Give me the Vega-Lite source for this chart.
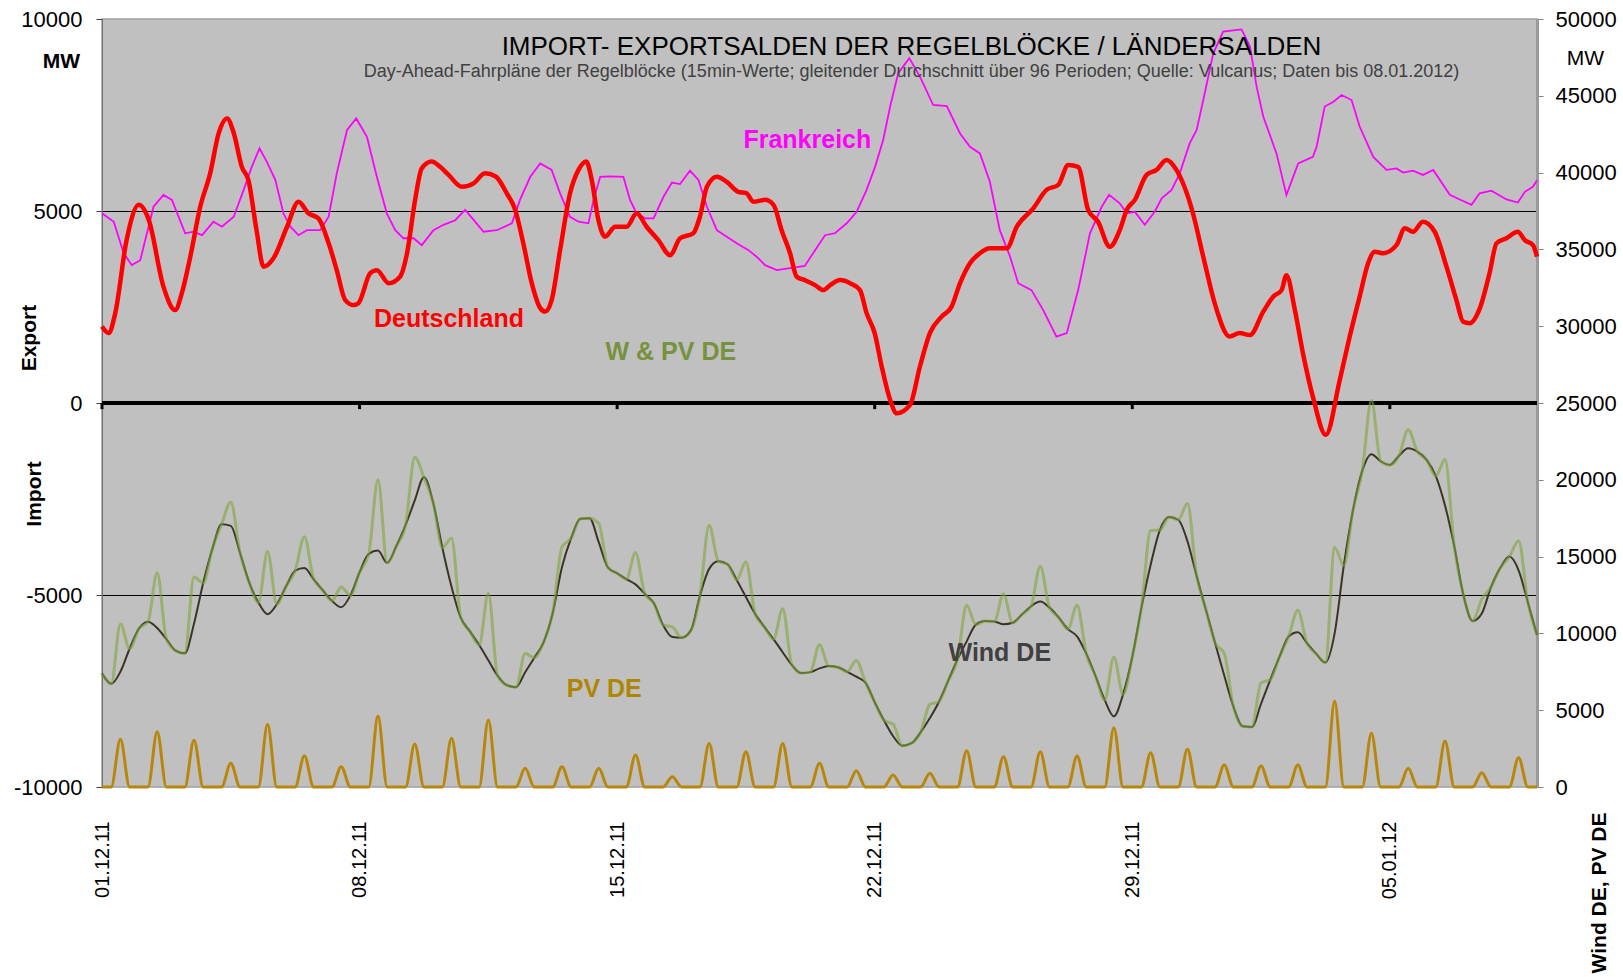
{
"$schema":"https://vega.github.io/schema/vega-lite/v6.json",
"width":1435,"height":768,
"autosize":{"type":"none"},
"padding":{"left":102,"top":19,"right":86,"bottom":190},
"background":"white",
"config":{"view":{"fill":"#c0c0c0","stroke":"#a0a0a0","strokeWidth":1.5},"font":"Liberation Sans, Arial, sans-serif","axis":{"labelFont":"Liberation Sans","titleFont":"Liberation Sans"}},
"title":{"text":"IMPORT- EXPORTSALDEN DER REGELBLÖCKE / LÄNDERSALDEN","subtitle":"Day-Ahead-Fahrpläne der Regelblöcke  (15min-Werte; gleitender Durchschnitt über 96 Perioden; Quelle:  Vulcanus; Daten bis 08.01.2012)","anchor":"middle","frame":"group","offset":-73,"dx":92,"fontSize":26,"fontWeight":"normal","color":"black","font":"Liberation Sans","subtitleFont":"Liberation Sans","subtitleFontSize":18,"subtitleColor":"#404040","subtitlePadding":3},
"datasets":{
"one":[{}],
"de":[{"Tag":0,"MW":1990},{"Tag":0.18,"MW":1820},{"Tag":0.36,"MW":2340},{"Tag":0.67,"MW":4250},{"Tag":1.0,"MW":5160},{"Tag":1.27,"MW":4770},{"Tag":1.67,"MW":3030},{"Tag":1.99,"MW":2420},{"Tag":2.17,"MW":2860},{"Tag":2.4,"MW":3810},{"Tag":2.67,"MW":5110},{"Tag":2.94,"MW":5980},{"Tag":3.17,"MW":7020},{"Tag":3.4,"MW":7410},{"Tag":3.58,"MW":7030},{"Tag":3.8,"MW":6150},{"Tag":3.98,"MW":5800},{"Tag":4.2,"MW":4500},{"Tag":4.39,"MW":3550},{"Tag":4.66,"MW":3770},{"Tag":5.03,"MW":4590},{"Tag":5.34,"MW":5240},{"Tag":5.61,"MW":4940},{"Tag":5.88,"MW":4810},{"Tag":6.16,"MW":4160},{"Tag":6.38,"MW":3460},{"Tag":6.61,"MW":2680},{"Tag":6.84,"MW":2550},{"Tag":6.97,"MW":2600},{"Tag":7.29,"MW":3380},{"Tag":7.47,"MW":3460},{"Tag":7.79,"MW":3120},{"Tag":8.1,"MW":3290},{"Tag":8.29,"MW":3900},{"Tag":8.51,"MW":5290},{"Tag":8.69,"MW":6110},{"Tag":8.96,"MW":6290},{"Tag":9.19,"MW":6150},{"Tag":9.42,"MW":5940},{"Tag":9.78,"MW":5630},{"Tag":10.1,"MW":5720},{"Tag":10.41,"MW":5980},{"Tag":10.7,"MW":5900},{"Tag":11.0,"MW":5460},{"Tag":11.23,"MW":5030},{"Tag":11.45,"MW":4160},{"Tag":11.68,"MW":3120},{"Tag":11.91,"MW":2470},{"Tag":12.04,"MW":2380},{"Tag":12.22,"MW":2680},{"Tag":12.45,"MW":3980},{"Tag":12.72,"MW":5460},{"Tag":12.95,"MW":6070},{"Tag":13.16,"MW":6290},{"Tag":13.31,"MW":5810},{"Tag":13.49,"MW":4770},{"Tag":13.67,"MW":4330},{"Tag":13.95,"MW":4590},{"Tag":14.26,"MW":4590},{"Tag":14.53,"MW":4940},{"Tag":14.8,"MW":4590},{"Tag":15.12,"MW":4240},{"Tag":15.44,"MW":3850},{"Tag":15.71,"MW":4290},{"Tag":16.07,"MW":4420},{"Tag":16.25,"MW":4850},{"Tag":16.44,"MW":5630},{"Tag":16.71,"MW":5890},{"Tag":16.98,"MW":5760},{"Tag":17.29,"MW":5500},{"Tag":17.52,"MW":5460},{"Tag":17.7,"MW":5240},{"Tag":18.02,"MW":5290},{"Tag":18.25,"MW":5160},{"Tag":18.47,"MW":4500},{"Tag":18.7,"MW":3900},{"Tag":18.88,"MW":3290},{"Tag":19.1,"MW":3200},{"Tag":19.38,"MW":3070},{"Tag":19.6,"MW":2940},{"Tag":19.79,"MW":3070},{"Tag":20.06,"MW":3200},{"Tag":20.33,"MW":3120},{"Tag":20.6,"MW":2940},{"Tag":20.78,"MW":2340},{"Tag":21.0,"MW":1820},{"Tag":21.19,"MW":950},{"Tag":21.42,"MW":80},{"Tag":21.6,"MW":-270},{"Tag":21.96,"MW":-50},{"Tag":22.23,"MW":950},{"Tag":22.5,"MW":1820},{"Tag":22.82,"MW":2250},{"Tag":23.09,"MW":2510},{"Tag":23.32,"MW":3120},{"Tag":23.59,"MW":3640},{"Tag":23.86,"MW":3900},{"Tag":24.13,"MW":4030},{"Tag":24.59,"MW":4030},{"Tag":24.86,"MW":4590},{"Tag":25.31,"MW":5070},{"Tag":25.67,"MW":5550},{"Tag":25.99,"MW":5680},{"Tag":26.26,"MW":6200},{"Tag":26.53,"MW":6150},{"Tag":26.8,"MW":5030},{"Tag":27.07,"MW":4720},{"Tag":27.39,"MW":4070},{"Tag":27.66,"MW":4500},{"Tag":27.85,"MW":5030},{"Tag":28.07,"MW":5290},{"Tag":28.39,"MW":5940},{"Tag":28.66,"MW":6070},{"Tag":28.93,"MW":6330},{"Tag":29.2,"MW":6070},{"Tag":29.65,"MW":4940},{"Tag":29.93,"MW":3810},{"Tag":30.24,"MW":2600},{"Tag":30.65,"MW":1730},{"Tag":30.92,"MW":1820},{"Tag":31.2,"MW":1770},{"Tag":31.56,"MW":2380},{"Tag":31.83,"MW":2770},{"Tag":32.06,"MW":2940},{"Tag":32.19,"MW":3330},{"Tag":32.42,"MW":2420},{"Tag":32.64,"MW":1290},{"Tag":32.91,"MW":160},{"Tag":33.26,"MW":-830},{"Tag":33.64,"MW":600},{"Tag":33.91,"MW":1730},{"Tag":34.18,"MW":2770},{"Tag":34.41,"MW":3640},{"Tag":34.59,"MW":3940},{"Tag":34.82,"MW":3900},{"Tag":35.18,"MW":4110},{"Tag":35.41,"MW":4550},{"Tag":35.63,"MW":4460},{"Tag":35.9,"MW":4720},{"Tag":36.22,"MW":4460},{"Tag":36.54,"MW":3550},{"Tag":36.81,"MW":2680},{"Tag":36.99,"MW":2120},{"Tag":37.17,"MW":2080},{"Tag":37.44,"MW":2450},{"Tag":37.71,"MW":3380},{"Tag":37.9,"MW":4160},{"Tag":38.17,"MW":4290},{"Tag":38.48,"MW":4460},{"Tag":38.67,"MW":4240},{"Tag":38.89,"MW":4110},{"Tag":39.0,"MW":3810}],
"fr":[{"Tag":0,"MW":4940},{"Tag":0.32,"MW":4720},{"Tag":0.59,"MW":3900},{"Tag":0.81,"MW":3590},{"Tag":1.04,"MW":3720},{"Tag":1.4,"MW":5110},{"Tag":1.67,"MW":5420},{"Tag":1.9,"MW":5290},{"Tag":2.26,"MW":4420},{"Tag":2.49,"MW":4460},{"Tag":2.72,"MW":4370},{"Tag":3.03,"MW":4720},{"Tag":3.26,"MW":4590},{"Tag":3.58,"MW":4850},{"Tag":3.85,"MW":5550},{"Tag":4.07,"MW":6150},{"Tag":4.28,"MW":6630},{"Tag":4.48,"MW":6280},{"Tag":4.71,"MW":5810},{"Tag":4.93,"MW":4940},{"Tag":5.12,"MW":4590},{"Tag":5.34,"MW":4370},{"Tag":5.57,"MW":4500},{"Tag":5.93,"MW":4500},{"Tag":6.16,"MW":4850},{"Tag":6.38,"MW":5980},{"Tag":6.66,"MW":7110},{"Tag":6.91,"MW":7410},{"Tag":7.2,"MW":6930},{"Tag":7.47,"MW":5890},{"Tag":7.74,"MW":4940},{"Tag":7.97,"MW":4500},{"Tag":8.19,"MW":4290},{"Tag":8.47,"MW":4290},{"Tag":8.69,"MW":4110},{"Tag":9.01,"MW":4500},{"Tag":9.28,"MW":4640},{"Tag":9.6,"MW":4760},{"Tag":9.87,"MW":5030},{"Tag":10.1,"MW":4770},{"Tag":10.37,"MW":4460},{"Tag":10.73,"MW":4500},{"Tag":11.14,"MW":4680},{"Tag":11.36,"MW":5290},{"Tag":11.64,"MW":5890},{"Tag":11.91,"MW":6240},{"Tag":12.22,"MW":6070},{"Tag":12.45,"MW":5460},{"Tag":12.72,"MW":4850},{"Tag":12.95,"MW":4720},{"Tag":13.22,"MW":4680},{"Tag":13.36,"MW":5290},{"Tag":13.54,"MW":5890},{"Tag":13.81,"MW":5900},{"Tag":14.17,"MW":5890},{"Tag":14.35,"MW":5290},{"Tag":14.53,"MW":4940},{"Tag":14.76,"MW":4810},{"Tag":14.99,"MW":4810},{"Tag":15.26,"MW":5370},{"Tag":15.49,"MW":5740},{"Tag":15.71,"MW":5700},{"Tag":15.98,"MW":6050},{"Tag":16.21,"MW":5810},{"Tag":16.44,"MW":5110},{"Tag":16.71,"MW":4500},{"Tag":16.98,"MW":4330},{"Tag":17.25,"MW":4160},{"Tag":17.57,"MW":3980},{"Tag":17.79,"MW":3810},{"Tag":18.02,"MW":3590},{"Tag":18.34,"MW":3460},{"Tag":18.7,"MW":3510},{"Tag":19.1,"MW":3570},{"Tag":19.38,"MW":3980},{"Tag":19.65,"MW":4370},{"Tag":19.92,"MW":4420},{"Tag":20.24,"MW":4680},{"Tag":20.51,"MW":4980},{"Tag":20.78,"MW":5550},{"Tag":21.01,"MW":6150},{"Tag":21.23,"MW":6850},{"Tag":21.42,"MW":7720},{"Tag":21.64,"MW":8590},{"Tag":21.94,"MW":8980},{"Tag":22.23,"MW":8500},{"Tag":22.59,"MW":7760},{"Tag":22.96,"MW":7730},{"Tag":23.32,"MW":7020},{"Tag":23.59,"MW":6670},{"Tag":23.86,"MW":6500},{"Tag":24.13,"MW":5760},{"Tag":24.4,"MW":4500},{"Tag":24.68,"MW":3810},{"Tag":24.9,"MW":3120},{"Tag":25.26,"MW":2940},{"Tag":25.58,"MW":2420},{"Tag":25.94,"MW":1730},{"Tag":26.22,"MW":1820},{"Tag":26.53,"MW":2940},{"Tag":26.85,"MW":4420},{"Tag":27.17,"MW":5110},{"Tag":27.37,"MW":5420},{"Tag":27.66,"MW":5200},{"Tag":27.85,"MW":4940},{"Tag":28.07,"MW":4980},{"Tag":28.34,"MW":4640},{"Tag":28.61,"MW":4980},{"Tag":28.8,"MW":5330},{"Tag":29.07,"MW":5550},{"Tag":29.29,"MW":5980},{"Tag":29.56,"MW":6760},{"Tag":29.75,"MW":7110},{"Tag":29.93,"MW":7890},{"Tag":30.2,"MW":9100},{"Tag":30.47,"MW":9670},{"Tag":30.97,"MW":9730},{"Tag":31.2,"MW":9280},{"Tag":31.38,"MW":8240},{"Tag":31.56,"MW":7460},{"Tag":31.92,"MW":6500},{"Tag":32.19,"MW":5420},{"Tag":32.51,"MW":6240},{"Tag":32.91,"MW":6410},{"Tag":33.01,"MW":6670},{"Tag":33.23,"MW":7720},{"Tag":33.46,"MW":7840},{"Tag":33.69,"MW":8020},{"Tag":33.96,"MW":7890},{"Tag":34.18,"MW":7200},{"Tag":34.55,"MW":6410},{"Tag":34.91,"MW":6070},{"Tag":35.18,"MW":6110},{"Tag":35.36,"MW":6000},{"Tag":35.63,"MW":6050},{"Tag":35.9,"MW":5940},{"Tag":36.18,"MW":6070},{"Tag":36.63,"MW":5420},{"Tag":36.9,"MW":5300},{"Tag":37.22,"MW":5160},{"Tag":37.44,"MW":5460},{"Tag":37.76,"MW":5530},{"Tag":38.17,"MW":5300},{"Tag":38.48,"MW":5220},{"Tag":38.67,"MW":5500},{"Tag":38.89,"MW":5630},{"Tag":39.0,"MW":5800}],
"ticks":[{"Tag":0},{"Tag":7},{"Tag":14},{"Tag":21},{"Tag":28},{"Tag":35}],
"grid":[
{"Tag":0,"Wind":7400,"PV":0,"WPV":7400},{"Tag":0.25,"Wind":6720,"PV":0,"WPV":6720},{"Tag":0.5,"Wind":7500,"PV":3105,"WPV":10605},{"Tag":0.75,"Wind":9000,"PV":0,"WPV":9000},
{"Tag":1,"Wind":10300,"PV":0,"WPV":10300},{"Tag":1.25,"Wind":10760,"PV":0,"WPV":10760},{"Tag":1.5,"Wind":10350,"PV":3600,"WPV":13950},{"Tag":1.75,"Wind":9620,"PV":0,"WPV":9620},
{"Tag":2,"Wind":8880,"PV":0,"WPV":8880},{"Tag":2.25,"Wind":8700,"PV":0,"WPV":8700},{"Tag":2.5,"Wind":10630,"PV":3040,"WPV":13670},{"Tag":2.75,"Wind":13280,"PV":0,"WPV":13280},
{"Tag":3,"Wind":15510,"PV":0,"WPV":15510},{"Tag":3.25,"Wind":17100,"PV":0,"WPV":17100},{"Tag":3.5,"Wind":17000,"PV":1540,"WPV":18540},{"Tag":3.75,"Wind":15250,"PV":0,"WPV":15250},
{"Tag":4,"Wind":13320,"PV":0,"WPV":13320},{"Tag":4.25,"Wind":12010,"PV":0,"WPV":12010},{"Tag":4.5,"Wind":11250,"PV":4080,"WPV":15330},{"Tag":4.75,"Wind":11900,"PV":0,"WPV":11900},
{"Tag":5,"Wind":13050,"PV":0,"WPV":13050},{"Tag":5.25,"Wind":14080,"PV":0,"WPV":14080},{"Tag":5.5,"Wind":14250,"PV":2040,"WPV":16290},{"Tag":5.75,"Wind":13540,"PV":0,"WPV":13540},
{"Tag":6,"Wind":12810,"PV":0,"WPV":12810},{"Tag":6.25,"Wind":12120,"PV":0,"WPV":12120},{"Tag":6.5,"Wind":11700,"PV":1320,"WPV":13020},{"Tag":6.75,"Wind":12470,"PV":0,"WPV":12470},
{"Tag":7,"Wind":13980,"PV":0,"WPV":13980},{"Tag":7.25,"Wind":15180,"PV":0,"WPV":15180},{"Tag":7.5,"Wind":15390,"PV":4620,"WPV":20010},{"Tag":7.75,"Wind":14600,"PV":0,"WPV":14600},
{"Tag":8,"Wind":15690,"PV":0,"WPV":15690},{"Tag":8.25,"Wind":17050,"PV":0,"WPV":17050},{"Tag":8.5,"Wind":18660,"PV":2800,"WPV":21460},{"Tag":8.75,"Wind":20160,"PV":0,"WPV":20160},
{"Tag":9,"Wind":18520,"PV":0,"WPV":18520},{"Tag":9.25,"Wind":15580,"PV":0,"WPV":15580},{"Tag":9.5,"Wind":13030,"PV":3170,"WPV":16200},{"Tag":9.75,"Wind":11020,"PV":0,"WPV":11020},
{"Tag":10,"Wind":10130,"PV":0,"WPV":10130},{"Tag":10.25,"Wind":9240,"PV":0,"WPV":9240},{"Tag":10.5,"Wind":8250,"PV":4360,"WPV":12610},{"Tag":10.75,"Wind":7250,"PV":0,"WPV":7250},
{"Tag":11,"Wind":6630,"PV":0,"WPV":6630},{"Tag":11.25,"Wind":6500,"PV":0,"WPV":6500},{"Tag":11.5,"Wind":7470,"PV":1215,"WPV":8685},{"Tag":11.75,"Wind":8420,"PV":0,"WPV":8420},
{"Tag":12,"Wind":9420,"PV":0,"WPV":9420},{"Tag":12.25,"Wind":11330,"PV":0,"WPV":11330},{"Tag":12.5,"Wind":14300,"PV":1320,"WPV":15620},{"Tag":12.75,"Wind":16200,"PV":0,"WPV":16200},
{"Tag":13,"Wind":17460,"PV":0,"WPV":17460},{"Tag":13.25,"Wind":17500,"PV":0,"WPV":17500},{"Tag":13.5,"Wind":15940,"PV":1215,"WPV":17155},{"Tag":13.75,"Wind":14290,"PV":0,"WPV":14290},
{"Tag":14,"Wind":13910,"PV":0,"WPV":13910},{"Tag":14.25,"Wind":13540,"PV":0,"WPV":13540},{"Tag":14.5,"Wind":13190,"PV":2080,"WPV":15270},{"Tag":14.75,"Wind":12580,"PV":0,"WPV":12580},
{"Tag":15,"Wind":11960,"PV":0,"WPV":11960},{"Tag":15.25,"Wind":10540,"PV":0,"WPV":10540},{"Tag":15.5,"Wind":9760,"PV":670,"WPV":10430},{"Tag":15.75,"Wind":9720,"PV":0,"WPV":9720},
{"Tag":16,"Wind":10180,"PV":0,"WPV":10180},{"Tag":16.25,"Wind":12450,"PV":0,"WPV":12450},{"Tag":16.5,"Wind":14200,"PV":2840,"WPV":17040},{"Tag":16.75,"Wind":14700,"PV":0,"WPV":14700},
{"Tag":17,"Wind":14500,"PV":0,"WPV":14500},{"Tag":17.25,"Wind":13480,"PV":0,"WPV":13480},{"Tag":17.5,"Wind":12370,"PV":2300,"WPV":14670},{"Tag":17.75,"Wind":11270,"PV":0,"WPV":11270},
{"Tag":18,"Wind":10430,"PV":0,"WPV":10430},{"Tag":18.25,"Wind":9630,"PV":0,"WPV":9630},{"Tag":18.5,"Wind":8770,"PV":2840,"WPV":11610},{"Tag":18.75,"Wind":7940,"PV":0,"WPV":7940},
{"Tag":19,"Wind":7420,"PV":0,"WPV":7420},{"Tag":19.25,"Wind":7480,"PV":0,"WPV":7480},{"Tag":19.5,"Wind":7720,"PV":1540,"WPV":9260},{"Tag":19.75,"Wind":7870,"PV":0,"WPV":7870},
{"Tag":20,"Wind":7800,"PV":0,"WPV":7800},{"Tag":20.25,"Wind":7500,"PV":0,"WPV":7500},{"Tag":20.5,"Wind":7180,"PV":1060,"WPV":8240},{"Tag":20.75,"Wind":6800,"PV":0,"WPV":6800},
{"Tag":21,"Wind":5520,"PV":0,"WPV":5520},{"Tag":21.25,"Wind":4350,"PV":0,"WPV":4350},{"Tag":21.5,"Wind":3310,"PV":780,"WPV":4090},{"Tag":21.75,"Wind":2690,"PV":0,"WPV":2690},
{"Tag":22,"Wind":2850,"PV":0,"WPV":2850},{"Tag":22.25,"Wind":3570,"PV":0,"WPV":3570},{"Tag":22.5,"Wind":4490,"PV":890,"WPV":5380},{"Tag":22.75,"Wind":5570,"PV":0,"WPV":5570},
{"Tag":23,"Wind":6930,"PV":0,"WPV":6930},{"Tag":23.25,"Wind":8310,"PV":0,"WPV":8310},{"Tag":23.5,"Wind":9480,"PV":2360,"WPV":11840},{"Tag":23.75,"Wind":10570,"PV":0,"WPV":10570},
{"Tag":24,"Wind":10800,"PV":0,"WPV":10800},{"Tag":24.25,"Wind":10780,"PV":0,"WPV":10780},{"Tag":24.5,"Wind":10590,"PV":1970,"WPV":12560},{"Tag":24.75,"Wind":10690,"PV":0,"WPV":10690},
{"Tag":25,"Wind":11230,"PV":0,"WPV":11230},{"Tag":25.25,"Wind":11770,"PV":0,"WPV":11770},{"Tag":25.5,"Wind":12070,"PV":2300,"WPV":14370},{"Tag":25.75,"Wind":11680,"PV":0,"WPV":11680},
{"Tag":26,"Wind":11040,"PV":0,"WPV":11040},{"Tag":26.25,"Wind":10280,"PV":0,"WPV":10280},{"Tag":26.5,"Wind":9810,"PV":2020,"WPV":11830},{"Tag":26.75,"Wind":8680,"PV":0,"WPV":8680},
{"Tag":27,"Wind":7240,"PV":0,"WPV":7240},{"Tag":27.25,"Wind":5670,"PV":0,"WPV":5670},{"Tag":27.5,"Wind":4600,"PV":3860,"WPV":8460},{"Tag":27.75,"Wind":6030,"PV":0,"WPV":6030},
{"Tag":28,"Wind":8460,"PV":0,"WPV":8460},{"Tag":28.25,"Wind":11680,"PV":0,"WPV":11680},{"Tag":28.5,"Wind":14470,"PV":2235,"WPV":16705},{"Tag":28.75,"Wind":16730,"PV":0,"WPV":16730},
{"Tag":29,"Wind":17580,"PV":0,"WPV":17580},{"Tag":29.25,"Wind":17400,"PV":0,"WPV":17400},{"Tag":29.5,"Wind":16000,"PV":2450,"WPV":18450},{"Tag":29.75,"Wind":13730,"PV":0,"WPV":13730},
{"Tag":30,"Wind":11560,"PV":0,"WPV":11560},{"Tag":30.25,"Wind":9390,"PV":0,"WPV":9390},{"Tag":30.5,"Wind":7260,"PV":1430,"WPV":8690},{"Tag":30.75,"Wind":5230,"PV":0,"WPV":5230},
{"Tag":31,"Wind":3950,"PV":0,"WPV":3950},{"Tag":31.25,"Wind":3900,"PV":0,"WPV":3900},{"Tag":31.5,"Wind":5420,"PV":1370,"WPV":6790},{"Tag":31.75,"Wind":6980,"PV":0,"WPV":6980},
{"Tag":32,"Wind":8470,"PV":0,"WPV":8470},{"Tag":32.25,"Wind":9800,"PV":0,"WPV":9800},{"Tag":32.5,"Wind":10070,"PV":1430,"WPV":11500},{"Tag":32.75,"Wind":9360,"PV":0,"WPV":9360},
{"Tag":33,"Wind":8670,"PV":0,"WPV":8670},{"Tag":33.25,"Wind":8100,"PV":0,"WPV":8100},{"Tag":33.5,"Wind":10000,"PV":5600,"WPV":15600},{"Tag":33.75,"Wind":14420,"PV":0,"WPV":14420},
{"Tag":34,"Wind":18030,"PV":0,"WPV":18030},{"Tag":34.25,"Wind":20580,"PV":0,"WPV":20580},{"Tag":34.5,"Wind":21670,"PV":3500,"WPV":25170},{"Tag":34.75,"Wind":21210,"PV":0,"WPV":21210},
{"Tag":35,"Wind":20970,"PV":0,"WPV":20970},{"Tag":35.25,"Wind":21570,"PV":0,"WPV":21570},{"Tag":35.5,"Wind":22050,"PV":1215,"WPV":23265},{"Tag":35.75,"Wind":21830,"PV":0,"WPV":21830},
{"Tag":36,"Wind":21300,"PV":0,"WPV":21300},{"Tag":36.25,"Wind":20240,"PV":0,"WPV":20240},{"Tag":36.5,"Wind":18330,"PV":2990,"WPV":21320},{"Tag":36.75,"Wind":15700,"PV":0,"WPV":15700},
{"Tag":37,"Wind":12500,"PV":0,"WPV":12500},{"Tag":37.25,"Wind":10810,"PV":0,"WPV":10810},{"Tag":37.5,"Wind":11300,"PV":930,"WPV":12230},{"Tag":37.75,"Wind":13020,"PV":0,"WPV":13020},
{"Tag":38,"Wind":14260,"PV":0,"WPV":14260},{"Tag":38.25,"Wind":15000,"PV":0,"WPV":15000},{"Tag":38.5,"Wind":14110,"PV":1910,"WPV":16020},{"Tag":38.75,"Wind":12050,"PV":0,"WPV":12050},
{"Tag":39,"Wind":9900,"PV":0,"WPV":9900}]
},
"layer":[
{"layer":[
 {"data":{"name":"one"},"mark":{"type":"rule","color":"black","strokeWidth":4},
  "encoding":{"y":{"datum":25000,"type":"quantitative","scale":{"domain":[0,50000],"nice":false,"zero":false},
   "axis":{"orient":"right","values":[0,5000,10000,15000,20000,25000,30000,35000,40000,45000,50000],"labelExpr":"'' + datum.value","title":"MW","titleAngle":0,"titleX":48,"titleY":39,"titleAlign":"center","titleBaseline":"middle","titleFontWeight":"normal","titleFontSize":21,"titleColor":"black","labelFontSize":22,"labelColor":"black","tickColor":"#808080","tickSize":6,"labelPadding":12,"domainColor":"#9a9a9a","domainWidth":3,"grid":false}}}},
 {"data":{"name":"ticks"},"mark":{"type":"rule","color":"black","strokeWidth":3},
  "encoding":{"x":{"field":"Tag","type":"quantitative","scale":{"domain":[0,39],"nice":false,"zero":false}},"y":{"datum":25000,"type":"quantitative"},"y2":{"datum":24600}}},
 {"data":{"name":"grid"},"mark":{"type":"line","color":"#3a3526","strokeWidth":2,"interpolate":"monotone"},
  "encoding":{"x":{"field":"Tag","type":"quantitative","scale":{"domain":[0,39],"nice":false,"zero":false},
   "axis":{"orient":"bottom","values":[0,7,14,21,28,35],"labelExpr":"timeFormat(datetime(2011, 11, 1 + datum.value), '%d.%m.%y')","labelAngle":270,"labelAlign":"right","labelBaseline":"middle","labelPadding":34,"labelFontSize":20,"labelColor":"black","ticks":false,"domain":false,"grid":false,"title":null}},
   "y":{"field":"Wind","type":"quantitative"}}},
 {"data":{"name":"grid"},"mark":{"type":"line","color":"#80a33b","opacity":0.6,"strokeWidth":3,"interpolate":"monotone"},
  "encoding":{"x":{"field":"Tag","type":"quantitative"},"y":{"field":"WPV","type":"quantitative"}}},
 {"data":{"name":"grid"},"mark":{"type":"line","color":"#b8860b","strokeWidth":3,"interpolate":"monotone"},
  "encoding":{"x":{"field":"Tag","type":"quantitative"},"y":{"field":"PV","type":"quantitative"}}},
 {"data":{"name":"one"},"mark":{"type":"text","text":"W & PV DE","color":"#76923c","fontSize":25,"fontWeight":"bold","align":"center","baseline":"middle"},
  "encoding":{"x":{"datum":15.46,"type":"quantitative"},"y":{"datum":28320,"type":"quantitative"}}},
 {"data":{"name":"one"},"mark":{"type":"text","text":"PV DE","color":"#b08600","fontSize":25,"fontWeight":"bold","align":"center","baseline":"middle"},
  "encoding":{"x":{"datum":13.65,"type":"quantitative"},"y":{"datum":6380,"type":"quantitative"}}},
 {"data":{"name":"one"},"mark":{"type":"text","text":"Wind DE","color":"#404040","fontSize":25,"fontWeight":"bold","align":"center","baseline":"middle"},
  "encoding":{"x":{"datum":24.4,"type":"quantitative"},"y":{"datum":8720,"type":"quantitative"}}},
 {"data":{"name":"one"},"mark":{"type":"text","text":"Wind DE, PV DE","color":"black","fontSize":21,"fontWeight":"bold","align":"center","baseline":"middle","angle":270},
  "encoding":{"x":{"datum":40.7,"type":"quantitative"},"y":{"datum":-6900,"type":"quantitative"}}}
]},
{"layer":[
 {"data":{"name":"fr"},"mark":{"type":"line","color":"#ff00ff","strokeWidth":1.8},
  "encoding":{"x":{"field":"Tag","type":"quantitative"},
   "y":{"field":"MW","type":"quantitative","scale":{"domain":[-10000,10000],"nice":false,"zero":false},
    "axis":{"orient":"left","values":[-10000,-5000,0,5000,10000],"labelExpr":"'' + datum.value","title":"MW","titleAngle":0,"titleX":-41,"titleY":42,"titleAlign":"center","titleBaseline":"middle","titleFontWeight":"bold","titleFontSize":21,"titleColor":"black","labelFontSize":22,"labelColor":"black","tickColor":"#404040","tickSize":6,"labelPadding":14,"domainColor":"#707070","grid":true,"gridColor":"black","gridWidth":1,"gridOpacity":{"condition":{"test":"abs(datum.value) == 5000","value":1},"value":0}}}}},
 {"data":{"name":"de"},"mark":{"type":"line","color":"#ff0000","strokeWidth":4.5,"strokeJoin":"round","interpolate":"monotone"},
  "encoding":{"x":{"field":"Tag","type":"quantitative"},"y":{"field":"MW","type":"quantitative"}}},
 {"data":{"name":"one"},"mark":{"type":"text","text":"Deutschland","color":"#ff0000","fontSize":25,"fontWeight":"bold","align":"center","baseline":"middle"},
  "encoding":{"x":{"datum":9.43,"type":"quantitative"},"y":{"datum":2190,"type":"quantitative"}}},
 {"data":{"name":"one"},"mark":{"type":"text","text":"Frankreich","color":"#ff00ff","fontSize":25,"fontWeight":"bold","align":"center","baseline":"middle"},
  "encoding":{"x":{"datum":19.17,"type":"quantitative"},"y":{"datum":6850,"type":"quantitative"}}},
 {"data":{"name":"one"},"mark":{"type":"text","text":"Export","color":"black","fontSize":21,"fontWeight":"bold","align":"center","baseline":"middle","angle":270},
  "encoding":{"x":{"datum":-1.95,"type":"quantitative"},"y":{"datum":1690,"type":"quantitative"}}},
 {"data":{"name":"one"},"mark":{"type":"text","text":"Import","color":"black","fontSize":21,"fontWeight":"bold","align":"center","baseline":"middle","angle":270},
  "encoding":{"x":{"datum":-1.81,"type":"quantitative"},"y":{"datum":-2370,"type":"quantitative"}}}
]}
],
"resolve":{"scale":{"y":"independent"}}
}
